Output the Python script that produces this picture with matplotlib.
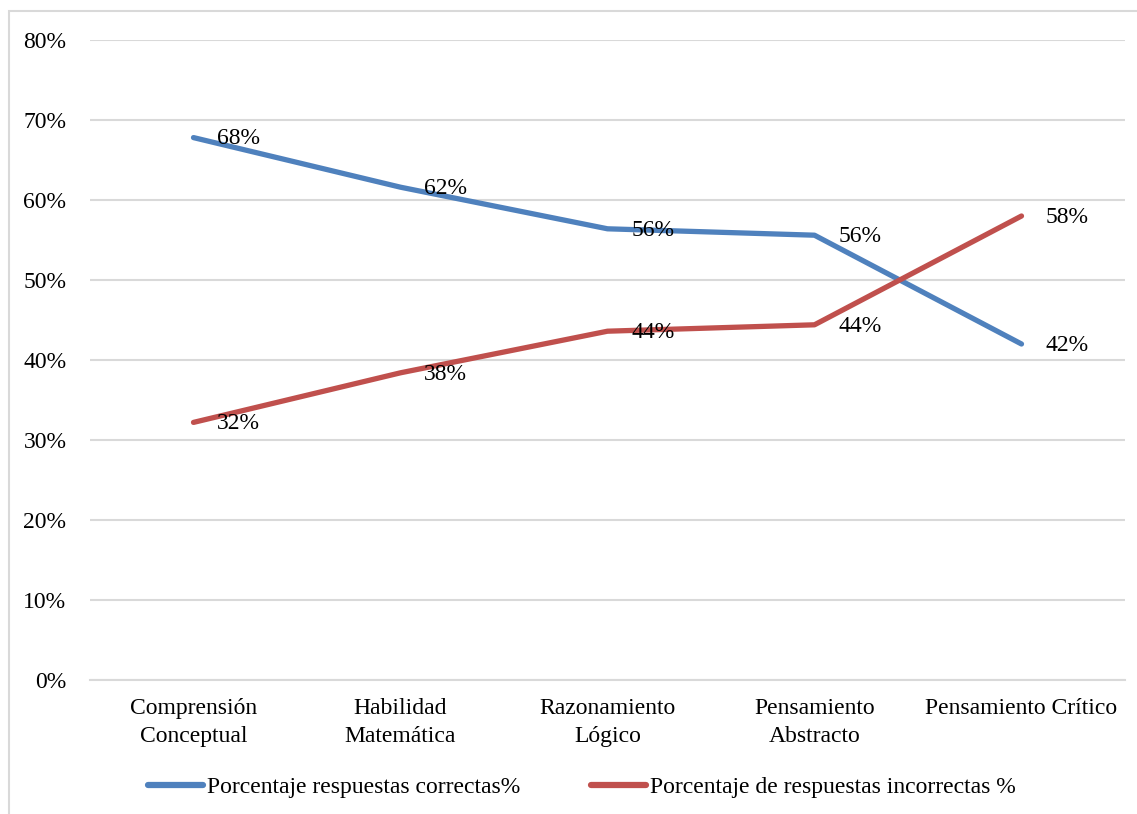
import matplotlib.pyplot as plt
from matplotlib.patches import Rectangle

plt.rcParams['font.family'] = ['Liberation Serif', 'DejaVu Serif']

categorias = ['Comprensión\nConceptual', 'Habilidad\nMatemática', 'Razonamiento\nLógico',
              'Pensamiento\nAbstracto', 'Pensamiento Crítico']
correctas = [0.678, 0.616, 0.564, 0.556, 0.420]
incorrectas = [0.322, 0.384, 0.436, 0.444, 0.580]
ticks_y = [0, 0.1, 0.2, 0.3, 0.4, 0.5, 0.6, 0.7, 0.8]

azul = '#4F81BD'
rojo = '#C0504D'
fs = 17

fig = plt.figure(figsize=(11.37, 8.14), dpi=100)
ax = fig.add_axes([90 / 1137, 1 - 680 / 814, 1035 / 1137, 640 / 814])

# marco exterior del grafico
fig.patches.append(Rectangle((9 / 1137, -0.05), 1.2, 1 - 11 / 814 + 0.05,
                             transform=fig.transFigure, fill=False,
                             edgecolor='#D9D9D9', linewidth=1.5))

x = list(range(len(categorias)))
ax.plot(x, correctas, color=azul, linewidth=3.8, solid_capstyle='round',
        label='Porcentaje respuestas correctas%', zorder=3)
ax.plot(x, incorrectas, color=rojo, linewidth=3.8, solid_capstyle='round',
        label='Porcentaje de respuestas incorrectas %', zorder=3)

# etiquetas de datos a la derecha de cada punto
for serie in (correctas, incorrectas):
    for xi, v in zip(x, serie):
        ax.annotate(f'{v:.0%}', (xi, v), xytext=(17, -1), textcoords='offset points',
                    va='center', ha='left', fontsize=fs, color='black', zorder=4)

ax.set_xlim(-0.5, len(categorias) - 0.5)
ax.set_ylim(0, 0.8)
ax.set_yticks(ticks_y)
ax.set_yticklabels([f'{t:.0%}' for t in ticks_y], fontsize=fs)
ax.set_xticks(x)
ax.set_xticklabels(categorias, fontsize=fs, linespacing=1.45)
ax.tick_params(axis='both', length=0)
ax.tick_params(axis='y', pad=17)
ax.tick_params(axis='x', pad=13)

ax.grid(axis='y', color='#D9D9D9', linewidth=1.5)
ax.set_axisbelow(True)
for lado in ['top', 'right', 'left']:
    ax.spines[lado].set_visible(False)
ax.spines['bottom'].set_color('#D9D9D9')
ax.spines['bottom'].set_linewidth(1.5)

leg = fig.legend(loc='center', bbox_to_anchor=(0.512, 1 - 787 / 814), ncol=2, frameon=False,
                 fontsize=fs, handlelength=2.3, handletextpad=0.2, columnspacing=3.0)
for h in leg.get_lines():
    h.set_linewidth(4.5)

fig.savefig('out.png', dpi=100)
